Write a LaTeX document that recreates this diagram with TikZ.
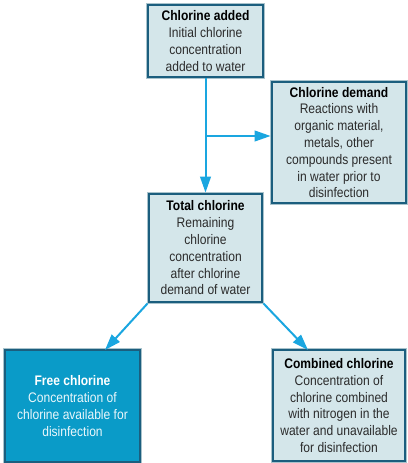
\documentclass[tikz,border=0pt]{standalone}
\usepackage{fontspec}
\setmainfont{Liberation Sans}[FakeStretch=0.87]
\usetikzlibrary{arrows.meta}
\definecolor{boxfill}{HTML}{D4E6EA}
\definecolor{boxedge}{HTML}{1B5E7E}
\definecolor{boxhalo}{HTML}{A9C3CC}
\definecolor{boxtext}{HTML}{2B2B2B}
\definecolor{flow}{HTML}{1AA6E0}
\definecolor{freefill}{HTML}{0A9BC8}
\tikzset{
    box/.style={draw=boxedge, line width=2.1pt, fill=boxfill, align=center,
        inner sep=0pt, text=boxtext, preaction={draw=boxhalo, line width=3.1pt},
        font=\fontsize{10.4}{12.6}\selectfont},
    flowline/.style={draw=flow, line width=1.5pt},
    flowarrow/.style={flowline, -{Triangle[length=12pt,width=8pt]}}
}
\begin{document}
\begin{tikzpicture}[x=0.75pt, y=-0.75pt]
    % Frame
    \useasboundingbox (0,0) rectangle (407,463);
    % Boxes
    \node [box, minimum width=86.25pt, minimum height=54pt] (added) at (205.5,41)
        {\textbf{\color{black}Chlorine added}\\Initial chlorine\\concentration\\added to water};
    \node [box, minimum width=100.5pt, minimum height=90.75pt] (demand) at (339,142.5)
        {\textbf{\color{black}Chlorine demand}\\Reactions with\\organic material,\\metals, other\\compounds present\\in water prior to\\disinfection};
    \node [box, minimum width=84.75pt, minimum height=81pt] (total) at (205.5,248)
        {\textbf{\color{black}Total chlorine}\\Remaining\\chlorine\\concentration\\after chlorine\\demand of water};
    \node [box, fill=freefill, text=white!92!freefill, minimum width=101.25pt, minimum height=84pt] (free) at (72.5,406)
        {\textbf{\color{white}Free chlorine}\\Concentration of\\chlorine available for\\disinfection};
    \node [box, minimum width=99pt, minimum height=83.25pt] (combined) at (339,405.5)
        {\textbf{\color{black}Combined chlorine}\\Concentration of\\chlorine combined\\with nitrogen in the\\water and unavailable\\for disinfection};
    % Connectors
    \coordinate (branch) at (205.5,136);
    \coordinate (freein) at (105,350);
    \coordinate (combin) at (308,350);
    \draw [flowarrow] (added.south) -- (total.north);
    \draw [flowarrow] (branch) -- (branch -| demand.west);
    \draw [flowarrow] (total.south west) -- (freein);
    \draw [flowarrow] (total.south east) -- (combin);
\end{tikzpicture}
\end{document}
